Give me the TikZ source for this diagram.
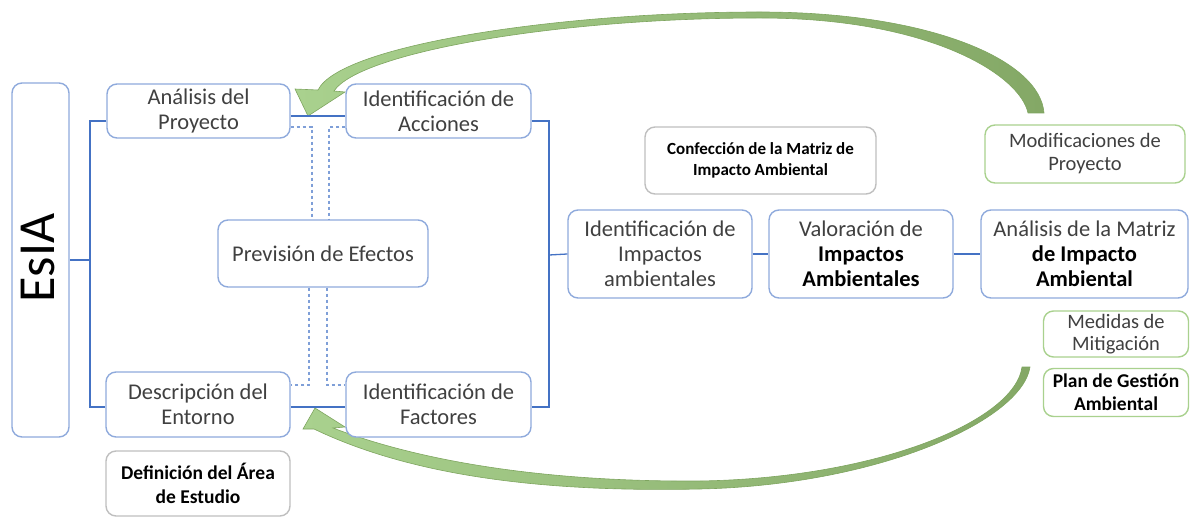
\documentclass[tikz,border=0pt]{standalone}
\usepackage{fontspec}
\setmainfont{Carlito}
\definecolor{bbord}{HTML}{8FAADC}
\definecolor{bline}{HTML}{4472C4}
\definecolor{dline}{HTML}{7F9FD8}
\definecolor{gbord}{HTML}{BFBFBF}
\definecolor{grbord}{HTML}{A9D18E}
\definecolor{txt}{HTML}{404040}
\definecolor{arrL}{HTML}{A9D18E}
\definecolor{arrR}{HTML}{84A866}
\definecolor{arrD}{HTML}{7EA55F}
\tikzset{
  bx/.style={draw=bbord, line width=1.4pt, rounded corners=10pt, fill=white, align=center, text=txt, inner sep=2pt, font=\fontsize{22.5}{25}\selectfont},
  gbx/.style={bx, draw=gbord},
  grbx/.style={bx, draw=grbord},
  conn/.style={draw=bline, line width=1.3pt},
  dsh/.style={draw=dline, line width=1.3pt, dash pattern=on 3.5pt off 2.5pt},
  arrsh/.style={left color=arrL, right color=arrR, draw=arrD, line width=0.6pt},
}
\begin{document}
\begin{tikzpicture}[x=1pt,y=-1pt]
\useasboundingbox (0,0) rectangle (1190,518);
% green curved arrows
\path[arrsh] (1044,113) .. controls (1040,60) and (930,12) .. (760,12)
  .. controls (560,12) and (340,45) .. (318,90) -- (295,89) -- (308,116) -- (345,92) -- (334,91)
  .. controls (360,52) and (560,18) .. (760,18)
  .. controls (930,18) and (1020,75) .. (1028,113) -- cycle;
\path[arrsh] (1030,367) .. controls (1022,420) and (880,485) .. (700,489)
  .. controls (560,492) and (420,480) .. (314,429) -- (303,429) -- (315,408) -- (345,427) -- (333,428)
  .. controls (430,465) and (560,482) .. (700,481)
  .. controls (880,478) and (1015,420) .. (1022,367) -- cycle;
% boxes
\node[bx, minimum width=57pt, minimum height=354pt] (esia) at (40.5,260) {};
\node[rotate=90, text=black, font=\fontsize{52}{52}\selectfont] (esiat) at (38,258) {EsIA};
\node[bx, minimum width=183pt, minimum height=54pt] (an) at (198.5,111) {Análisis del\\Proyecto};
\node[bx, minimum width=185pt, minimum height=54pt] (ac) at (438.5,111) {Identificación de\\Acciones};
\node[bx, minimum width=210pt, minimum height=67pt] (pr) at (323,253.5) {Previsión de Efectos};
\node[bx, minimum width=184pt, minimum height=65pt] (de) at (198,404.5) {Descripción del\\Entorno};
\node[bx, minimum width=185pt, minimum height=65pt] (fa) at (438.5,404.5) {Identificación de\\Factores};
\node[gbx, minimum width=184pt, minimum height=65pt, text=black, font=\bfseries\fontsize{19.5}{24}\selectfont] (df) at (198,483.5) {Definición del Área\\de Estudio};
\node[gbx, minimum width=231pt, minimum height=67pt, text=black, font=\bfseries\fontsize{17}{21}\selectfont] (cm) at (760.5,160.5) {Confección de la Matriz de\\Impacto Ambiental};
\node[bx, minimum width=184pt, minimum height=88pt] (ia) at (660,254) {Identificación de\\Impactos\\ambientales};
\node[bx, minimum width=184pt, minimum height=88pt] (va) at (861,254) {Valoración de\\{\color{black}\bfseries Impactos}\\{\color{black}\bfseries Ambientales}};
\node[bx, minimum width=207pt, minimum height=88pt] (am) at (1084.5,254) {Análisis de la Matriz\\{\color{black}\bfseries de Impacto}\\{\color{black}\bfseries Ambiental}};
\node[grbx, minimum width=200pt, minimum height=58pt, font=\fontsize{20.5}{23}\selectfont] (mo) at (1085,154) {Modificaciones de\\Proyecto};
\node[grbx, minimum width=145pt, minimum height=46pt, font=\fontsize{20.5}{22}\selectfont] (me) at (1116,334) {Medidas de\\Mitigación};
\node[grbx, minimum width=145pt, minimum height=48pt, text=black, font=\bfseries\fontsize{19.5}{23}\selectfont] (pg) at (1116,392.5) {Plan de Gestión\\Ambiental};
% solid connectors
\coordinate (jl) at (90,260);
\coordinate (jr) at (549,255);
\draw[conn] (esia.east) -- (jl);
\draw[conn] ([yshift=-10pt]an.west) -| (jl) |- ([yshift=-2.5pt]de.west);
\draw[conn] ([yshift=-10pt]ac.east) -| (jr) |- ([yshift=-2.5pt]fa.east);
\draw[conn] (jr) -- (ia.west);
\draw[conn] ([yshift=-5pt]an.east) -- ([yshift=-5pt]ac.west);
\draw[conn] ([yshift=-2.5pt]de.east) -- ([yshift=-2.5pt]fa.west);
\draw[conn] (ia.east) -- (va.west);
\draw[conn] (va.east) -- (am.west);
% dashed connectors
\draw[dsh] ([yshift=-16pt]an.east) -| ([xshift=-11pt]pr.north);
\draw[dsh] ([yshift=-16pt]ac.west) -| ([xshift=6pt]pr.north);
\draw[dsh] ([xshift=-14pt]pr.south) |- ([yshift=19.5pt]de.east);
\draw[dsh] ([xshift=4pt]pr.south) |- ([yshift=19.5pt]fa.west);
\end{tikzpicture}
\end{document}
